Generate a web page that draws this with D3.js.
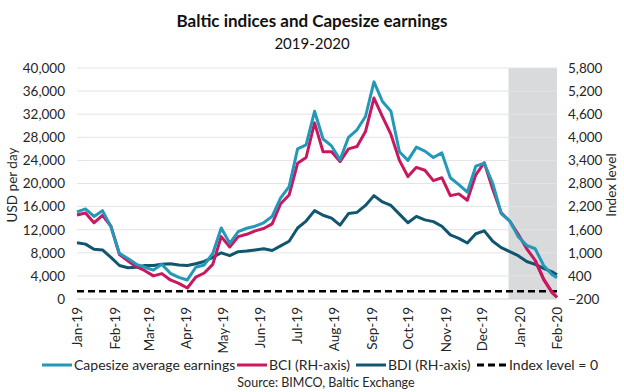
<!DOCTYPE html>
<html>
<head>
<meta charset="utf-8">
<script src="https://cdn.jsdelivr.net/npm/d3@7/dist/d3.min.js"></script>
<style>
  body { margin: 0; background: #fff; }
  svg { display: block; font-family: Lato, "Open Sans", sans-serif; }
</style>
</head>
<body>
<svg id="chart" width="624" height="392"></svg>
<script>
// weekly observations, Jan 2019 - Feb 2020
var dates = ['2019-01-01','2019-01-08','2019-01-15','2019-01-22','2019-01-29','2019-02-05','2019-02-12','2019-02-19',
  '2019-02-26','2019-03-05','2019-03-12','2019-03-19','2019-03-26','2019-04-02','2019-04-09','2019-04-16',
  '2019-04-23','2019-04-30','2019-05-07','2019-05-14','2019-05-21','2019-05-28','2019-06-04','2019-06-11',
  '2019-06-18','2019-06-25','2019-07-02','2019-07-09','2019-07-16','2019-07-23','2019-07-30','2019-08-06',
  '2019-08-13','2019-08-20','2019-08-27','2019-09-03','2019-09-10','2019-09-17','2019-09-24','2019-10-01',
  '2019-10-08','2019-10-15','2019-10-22','2019-10-29','2019-11-05','2019-11-12','2019-11-19','2019-11-26',
  '2019-12-03','2019-12-10','2019-12-17','2019-12-24','2019-12-31','2020-01-07','2020-01-14','2020-01-21',
  '2020-01-28','2020-02-01'];

// USD per day
var capesize = [15100,15600,14300,15300,12500,7900,7000,6000,5500,5000,6000,4450,3750,3300,5500,5900,
  7900,12300,9650,11650,12250,12600,13200,14300,17500,19450,26000,26700,32500,27700,26500,24100,
  28000,29300,31600,37600,34200,32500,25500,24000,26300,25600,24500,25300,21000,19800,18500,23000,
  23500,20000,14800,13500,10800,9300,8700,5800,4200,3700];

// index level (right axis)
var bci = [1980,2035,1780,1975,1690,955,790,640,535,400,460,295,205,85,370,475,
  700,1420,1150,1420,1480,1570,1630,1750,2275,2500,3325,3475,4375,3625,3625,3370,
  3700,3760,4150,5020,4540,4075,3400,2980,3220,3145,2875,2950,2485,2530,2365,3025,
  3340,2650,2035,1825,1480,1105,805,310,-35,-155];

var bdi = [1260,1225,1090,1075,880,670,610,625,670,670,700,715,685,670,715,775,
  880,1000,925,1030,1045,1075,1105,1060,1180,1300,1645,1825,2095,1975,1900,1720,
  2020,2050,2230,2485,2320,2230,2005,1780,1945,1855,1810,1690,1465,1375,1255,1495,
  1570,1300,1135,1030,925,775,700,595,505,430];

var monthTicks = ['2019-01-01','2019-02-01','2019-03-01','2019-04-01','2019-05-01','2019-06-01','2019-07-01',
  '2019-08-01','2019-09-01','2019-10-01','2019-11-01','2019-12-01','2020-01-01','2020-02-01'];
var leftTicks = d3.range(0, 40001, 4000);
var rightTicks = d3.range(-200, 5801, 600);
var shadeStart = '2019-12-23';

var parse = d3.timeParse('%Y-%m-%d');
var colors = {cape: '#2398b8', bci: '#c8185f', bdi: '#10566f'};

var svg = d3.select('#chart');
var plotL = 77, plotR = 557, plotT = 68, plotB = 299;

var x = d3.scaleTime().domain([parse(monthTicks[0]), parse(monthTicks[monthTicks.length - 1])]).range([plotL, plotR]);
var yL = d3.scaleLinear().domain([0, 40000]).range([plotB, plotT]);
var yR = d3.scaleLinear().domain([-200, 5800]).range([plotB, plotT]);

// shaded period
svg.append('rect')
  .attr('x', x(parse(shadeStart))).attr('y', plotT)
  .attr('width', plotR - x(parse(shadeStart))).attr('height', plotB - plotT)
  .attr('fill', '#d9dadb');

// gridlines
svg.append('g').selectAll('line').data(leftTicks).join('line')
  .attr('x1', plotL).attr('x2', plotR)
  .attr('y1', function(d) { return yL(d); }).attr('y2', function(d) { return yL(d); })
  .attr('stroke', function(d) { return d === 0 ? '#d0d0d0' : '#e4e4e4'; }).attr('stroke-width', 1);

// axes
var fmt = d3.format(',');
var gl = svg.append('g').attr('transform', 'translate(' + plotL + ',0)')
  .call(d3.axisLeft(yL).tickValues(leftTicks).tickFormat(fmt).tickSize(0).tickPadding(12));
var gr = svg.append('g').attr('transform', 'translate(' + plotR + ',0)')
  .call(d3.axisRight(yR).tickValues(rightTicks).tickFormat(fmt).tickSize(0).tickPadding(11));
var gx = svg.append('g').attr('transform', 'translate(0,' + plotB + ')')
  .call(d3.axisBottom(x).tickValues(monthTicks.map(parse)).tickFormat(d3.timeFormat('%b-%y')).tickSize(0));
[gl, gr, gx].forEach(function(g) {
  g.select('.domain').remove();
  g.selectAll('text').attr('fill', '#262626').style('font-size', '13.5px').style('font-family', 'Lato, sans-serif');
});
gx.selectAll('text')
  .attr('transform', 'rotate(-90)')
  .attr('x', -8).attr('y', 0).attr('dy', '0.35em')
  .style('text-anchor', 'end');

svg.append('text').attr('transform', 'translate(17,185) rotate(-90)')
  .attr('text-anchor', 'middle').attr('fill', '#262626').style('font-size', '13.5px').text('USD per day');
svg.append('text').attr('transform', 'translate(616,185) rotate(-90)')
  .attr('text-anchor', 'middle').attr('fill', '#262626').style('font-size', '13.5px').text('Index level');

// index level = 0
svg.append('line')
  .attr('x1', plotL).attr('x2', plotR).attr('y1', yR(0)).attr('y2', yR(0))
  .attr('stroke', '#000').attr('stroke-width', 2.5).attr('stroke-dasharray', '7,4');

var pts = dates.map(parse);
var series = [
  {name: 'bdi', values: bdi, y: yR},
  {name: 'bci', values: bci, y: yR},
  {name: 'cape', values: capesize, y: yL}
];
series.forEach(function(s) {
  var line = d3.line()
    .x(function(d, i) { return x(pts[i]); })
    .y(function(d) { return s.y(d); });
  svg.append('path').datum(s.values)
    .attr('d', line).attr('fill', 'none')
    .attr('stroke', colors[s.name]).attr('stroke-width', 3)
    .attr('stroke-linejoin', 'round');
});
// BCI drawn over capesize at the very end
svg.append('path').datum(bci.slice(-4))
  .attr('d', d3.line().x(function(d, i) { return x(pts[pts.length - 4 + i]); }).y(function(d) { return yR(d); }))
  .attr('fill', 'none').attr('stroke', colors.bci).attr('stroke-width', 3).attr('stroke-linejoin', 'round');

// titles
svg.append('text').attr('x', 312).attr('y', 27).attr('text-anchor', 'middle')
  .style('font-size', '17px').style('font-weight', 'bold').attr('fill', '#111')
  .text('Baltic indices and Capesize earnings');
svg.append('text').attr('x', 312).attr('y', 49).attr('text-anchor', 'middle')
  .style('font-size', '15px').attr('fill', '#111').text('2019-2020');

// legend
var legend = [
  {label: 'Capesize average earnings', color: colors.cape, x: 42},
  {label: 'BCI (RH-axis)', color: colors.bci, x: 237},
  {label: 'BDI (RH-axis)', color: colors.bdi, x: 356},
  {label: 'Index level = 0', color: '#000', x: 477, dash: '7,4'}
];
var lg = svg.append('g').selectAll('g').data(legend).join('g')
  .attr('transform', function(d) { return 'translate(' + d.x + ',365)'; });
lg.append('line').attr('x1', 0).attr('x2', 30).attr('y1', 0).attr('y2', 0)
  .attr('stroke', function(d) { return d.color; }).attr('stroke-width', 3)
  .attr('stroke-dasharray', function(d) { return d.dash || null; });
lg.append('text').attr('x', 32).attr('dy', '0.35em').attr('fill', '#262626')
  .style('font-size', '14px').text(function(d) { return d.label; });

svg.append('text').attr('x', 326).attr('y', 387).attr('text-anchor', 'middle')
  .attr('fill', '#262626').style('font-size', '12.5px').text('Source: BIMCO, Baltic Exchange');
</script>
</body>
</html>
